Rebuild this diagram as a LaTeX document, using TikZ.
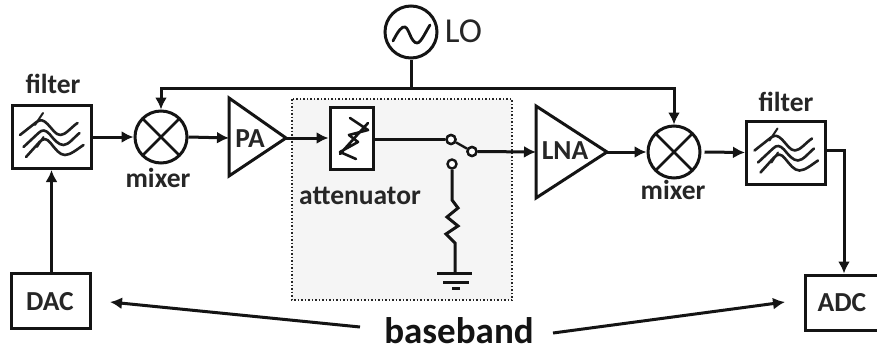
\documentclass[tikz,border=0pt]{standalone}
\usepackage{fontspec}
\setmainfont{Carlito}
\usetikzlibrary{arrows.meta,calc}
\tikzset{
 x=1pt,y=-1pt,
 wire/.style={line width=3pt,draw=black!92,line cap=butt},
 arr/.style={wire,-{Latex[length=12pt,width=12pt]}},
 block/.style={draw=black!92,line width=3pt,rectangle,inner sep=0pt,fill=white},
 mix/.style={draw=black!92,line width=3pt,circle,inner sep=0pt,minimum size=52pt,fill=white},
 contact/.style={draw=black!92,line width=2.4pt,circle,inner sep=0pt,minimum size=9pt,fill=white},
 lab/.style={font=\bfseries\fontsize{27.5}{28}\selectfont,text=black!85,inner sep=0pt},
 amp/.style={draw=black!92,line width=3pt,line join=miter,fill=white},
 fw/.style={line width=2.6pt,draw=black!88,line cap=round,line join=round},
}
\newcommand{\filtersym}[1]{%
 \begin{scope}[shift={(#1)}]
  \draw[fw] (-31.5,-2) -- (-15,-15) .. controls (-11,-18) and (-8,-17) .. (-4,-13) .. controls (1,-8) and (4,-2) .. (9,-2) .. controls (14,-2) and (20,-10) .. (26,-14);
  \draw[fw] (-28,10) -- (-13,-4) .. controls (-9,-8) and (-6,-7) .. (-2,-3) .. controls (3,3) and (7,8) .. (12,8) .. controls (17,8) and (23,0) .. (28,-4);
  \draw[fw] (-25.5,20) -- (-12,5) .. controls (-8,1) and (-5,1) .. (-1,6) .. controls (4,12) and (8,18) .. (13.5,18) .. controls (19,18) and (26,12) .. (32,8);
  \draw[fw,line width=2pt] (-16.5,-12) -- (-8.5,-24);
  \draw[fw,line width=2pt] (-14.5,10) -- (-8,0);
 \end{scope}}
\newcommand{\crosssym}[1]{%
 \draw[line width=2.8pt,draw=black!92] ($(#1)+(-18.5,-18.5)$) -- ($(#1)+(18.5,18.5)$);
 \draw[line width=2.8pt,draw=black!92] ($(#1)+(-18.5,18.5)$) -- ($(#1)+(18.5,-18.5)$);}
\begin{document}
\begin{tikzpicture}
\useasboundingbox (0,0) rectangle (877,351);
\fill[white] (0,0) rectangle (877,351);
\draw[fill=black!4,draw=black!85,line width=1.5pt,dotted] (292,99) rectangle (512,300);
\node[block,minimum width=79pt,minimum height=63pt] (filt1) at (51.5,137) {};
\node[block,minimum width=79pt,minimum height=63pt] (filt2) at (786,152.5) {};
\node[block,minimum width=79pt,minimum height=55pt] (dac) at (51,300.5) {};
\node[block,minimum width=76pt,minimum height=55pt] (adc) at (843,302.5) {};
\node[block,minimum width=43pt,minimum height=62pt] (att) at (351.5,138) {};
\node[mix] (mix1) at (161,137) {};
\node[mix] (mix2) at (674,152) {};
\node[mix,minimum size=52pt] (lo) at (411,32) {};
\draw[amp] (229,98) -- (286,138) -- (229,176) -- cycle;
\draw[amp] (536,106) -- (607,152) -- (536,198) -- cycle;
\coordinate (pain) at (229,138);
\coordinate (paout) at (286,138);
\coordinate (lnain) at (536,152);
\coordinate (lnaout) at (607,152);
\crosssym{mix1}
\crosssym{mix2}
\filtersym{filt1.center}
\filtersym{filt2.center}
\draw[line width=2.6pt,draw=black!92,line join=round,line cap=round]
 (340,154) -- (368,123) (350,118) -- (368,130) -- (349,135) -- (358,142) -- (340,152) -- (356,159);
\draw[line width=2.8pt,draw=black!92,line cap=round] (393,41) .. controls (398,31) and (402,26) .. (405,27) .. controls (409,28) and (411,43) .. (417,43) .. controls (421,43) and (426,31) .. (430,25);
\node[lab] (tf1) at (53,84) {filter};
\node[lab] (tm1) at (158,178) {mixer};
\node[lab] (tpa) at (250,139) {PA};
\node[lab] (tat) at (360,196) {attenuator};
\node[lab] (tln) at (565,151) {LNA};
\node[lab] (tm2) at (673,190) {mixer};
\node[lab] (tf2) at (786,102) {filter};
\node[lab] at (50,302) {DAC};
\node[lab] at (842,303) {ADC};
\node[font=\fontsize{35}{36}\selectfont,text=black!85,inner sep=0pt] (tlo) at (463.5,31) {LO};
\node[font=\bfseries\fontsize{37}{38}\selectfont,text=black!92,inner sep=0pt] (bb) at (459,330.5) {baseband};
\coordinate (bus) at (lo.south |- 0,88);
\coordinate (busl) at (161,88);
\coordinate (busr) at (674,88);
\draw[wire] (lo.south) -- (bus);
\draw[arr,line join=miter] (bus) -- (busl) -- (mix1.north);
\draw[arr,line join=miter] (bus) -- (busr) -- (mix2.north);
\draw[arr] (filt1.east) -- (mix1.west);
\draw[arr] (mix1.east) -- (pain);
\draw[arr] (paout) -- (att.west);
\draw[arr] (dac.north -| filt1.south) -- (filt1.south);
\node[contact] (sw1) at (451,139.5) {};
\node[contact] (sw2) at (472,151.5) {};
\node[contact] (sw3) at (452,164) {};
\draw[wire] (att.east |- sw1) -- (sw1.west);
\draw[wire,line width=2.4pt] (sw1) -- (sw2);
\node[contact] at (sw1) {};
\node[contact] at (sw2) {};
\draw[arr] (sw2.east) -- (lnain);
\draw[arr] (lnaout) -- (mix2.west);
\draw[arr] (mix2.east)++(3,0) -- (filt2.west);
\coordinate (gnd) at (455,273);
\draw[wire,line join=miter] (sw3.south) -- (452,200) -- (458,208) -- (447,217) -- (458,226) -- (446,234) -- (455,243) -- (gnd);
\draw[wire] (437,273) -- (472,273) (443,282) -- (469,282);
\draw[wire,line width=3pt] (452,288.5) -- (460,288.5);
\draw[arr,line join=miter] (filt2.east |- 0,150) -- (844,150) -- (adc.north -| 844,0);
\coordinate (bl) at (360,327);
\coordinate (br) at (553,333);
\draw[arr] (bl) -- (110,302);
\draw[arr] (br) -- (785,302);
\end{tikzpicture}
\end{document}
